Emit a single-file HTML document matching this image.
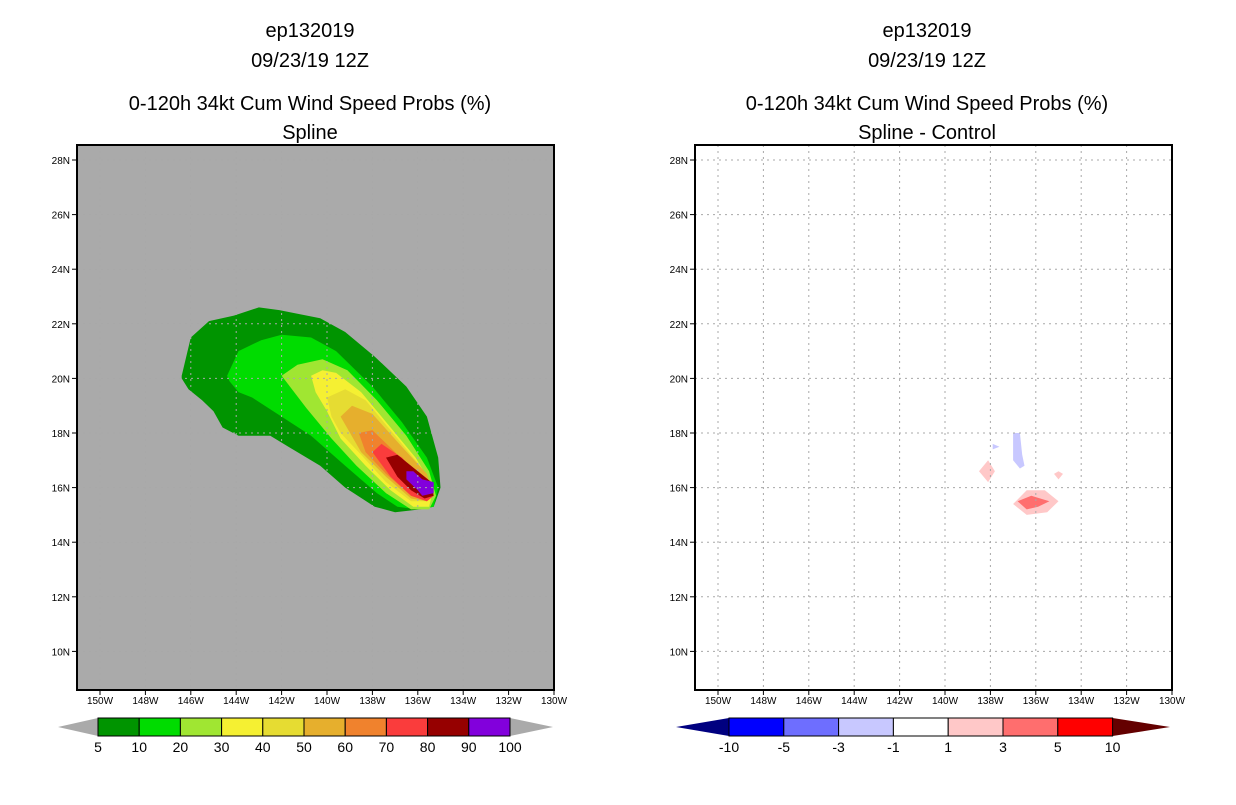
<!DOCTYPE html>
<html><head><meta charset="utf-8"><style>
body{margin:0;background:#fff;width:1236px;height:800px;overflow:hidden}
svg text{font-family:"Liberation Sans",sans-serif;fill:#000}
</style></head><body>
<svg id="s" width="1236" height="800" xmlns="http://www.w3.org/2000/svg">
<g font-size="20" text-anchor="middle">
<text x="310" y="37">ep132019</text><text x="310" y="67">09/23/19 12Z</text>
<text x="310" y="110">0-120h 34kt Cum Wind Speed Probs (%)</text><text x="310" y="139">Spline</text></g>
<g font-size="20" text-anchor="middle">
<text x="927" y="37">ep132019</text><text x="927" y="67">09/23/19 12Z</text>
<text x="927" y="110">0-120h 34kt Cum Wind Speed Probs (%)</text><text x="927" y="139">Spline - Control</text></g>
</svg>
<script>
const lonTicks=[-150,-148,-146,-144,-142,-140,-138,-136,-134,-132,-130];
const latTicks=[28,26,24,22,20,18,16,14,12,10];
const probLevels=[5,10,20,30,40,50,60,70,80,90];
const probColors=['#009400','#00dc00','#a0e632','#f5f032','#e6dc32','#e6af2d','#f0822d','#fa3c3c','#960000','#8200dc'];
const probLabels=['5','10','20','30','40','50','60','70','80','90','100'];
const probPolys=[
[[-146.4,20.1],[-146.0,21.5],[-145.2,22.1],[-144.1,22.3],[-143.0,22.6],[-142.1,22.5],[-140.3,22.2],[-139.2,21.7],[-137.9,20.8],[-136.5,19.7],[-135.6,18.6],[-135.1,17.1],[-135.0,16.0],[-135.3,15.3],[-135.9,15.2],[-137.0,15.1],[-137.9,15.3],[-139.2,16.0],[-140.3,16.8],[-141.7,17.5],[-142.5,17.9],[-143.9,17.9],[-144.6,18.2],[-145.0,18.8],[-145.5,19.2],[-146.1,19.6],[-146.4,20.0]],
[[-144.4,20.1],[-143.9,21.0],[-142.9,21.4],[-142.0,21.6],[-140.7,21.5],[-139.6,21.0],[-138.0,19.7],[-136.7,18.4],[-135.6,17.1],[-135.1,16.0],[-135.3,15.3],[-136.0,15.2],[-136.9,15.3],[-137.8,15.8],[-139.2,16.8],[-140.7,17.9],[-142.0,18.6],[-143.3,19.3],[-143.9,19.5],[-144.3,19.9]],
[[-142.0,20.1],[-141.3,20.5],[-140.2,20.7],[-139.1,20.3],[-137.8,19.2],[-136.5,17.9],[-135.5,16.6],[-135.2,15.7],[-135.5,15.2],[-136.3,15.2],[-137.4,15.8],[-138.7,16.8],[-139.8,17.8],[-140.9,18.9]],
[[-140.7,20.1],[-140.2,20.3],[-139.6,20.2],[-138.5,19.5],[-137.2,18.2],[-136.1,17.1],[-135.3,16.0],[-135.5,15.3],[-136.2,15.3],[-137.2,15.9],[-138.3,16.8],[-139.4,17.8],[-140.0,18.8],[-140.5,19.5]],
[[-140.0,19.3],[-139.2,19.6],[-138.3,19.2],[-137.0,17.9],[-135.9,16.8],[-135.3,15.9],[-135.6,15.5],[-136.3,15.5],[-137.4,16.2],[-138.5,17.2],[-139.4,18.0],[-139.8,18.6]],
[[-139.4,18.6],[-138.9,19.0],[-138.0,18.7],[-136.7,17.5],[-135.6,16.5],[-135.3,15.7],[-135.6,15.5],[-136.3,15.6],[-137.4,16.4],[-138.5,17.3]],
[[-138.6,18.0],[-138.0,18.1],[-137.0,17.3],[-135.9,16.2],[-135.3,15.7],[-135.6,15.5],[-136.3,15.7],[-137.4,16.5],[-138.3,17.3]],
[[-138.0,17.3],[-137.6,17.6],[-136.7,17.1],[-135.6,16.1],[-135.3,15.7],[-135.6,15.5],[-136.3,15.7],[-137.2,16.4]],
[[-137.4,17.1],[-136.9,17.2],[-136.0,16.6],[-135.4,16.2],[-135.3,15.7],[-135.7,15.6],[-136.3,15.9],[-136.9,16.4]],
[[-136.5,16.6],[-136.2,16.6],[-135.8,16.3],[-135.3,16.2],[-135.3,15.8],[-135.8,15.7],[-136.0,15.9],[-136.5,16.3]]
];
const diffLabels=['-10','-5','-3','-1','1','3','5','10'];
const diffColors=['#000080','#0000ff','#6e6eff','#c8c8ff','#ffffff','#ffc8c8','#ff6e6e','#ff0000','#640000'];
const diffPolys=[
{c:'#c8c8ff',p:[[-137.0,18.0],[-136.7,18.0],[-136.6,17.2],[-136.5,16.8],[-136.7,16.7],[-137.0,17.0]]},
{c:'#c8c8ff',p:[[-137.9,17.6],[-137.6,17.5],[-137.9,17.4]]},
{c:'#ffc8c8',p:[[-138.1,17.0],[-137.8,16.6],[-138.1,16.2],[-138.5,16.6]]},
{c:'#ffc8c8',p:[[-135.0,16.6],[-134.8,16.5],[-135.0,16.3],[-135.2,16.5]]},
{c:'#ffc8c8',p:[[-136.4,15.9],[-135.6,15.9],[-135.0,15.5],[-135.5,15.1],[-136.4,15.0],[-137.0,15.4]]},
{c:'#ff6e6e',p:[[-136.2,15.7],[-135.8,15.6],[-135.4,15.5],[-135.9,15.3],[-136.4,15.2],[-136.8,15.5]]}
];
const NS='http://www.w3.org/2000/svg',S=document.getElementById('s');
function mk(t,a,par){const e=document.createElementNS(NS,t);for(const k in a)e.setAttribute(k,a[k]);(par||S).appendChild(e);return e;}
function panel(ox,bg,name){
 const X=lon=>ox+23+(lon+150)*22.7, Y=lat=>160+(28-lat)*27.3;
 const g=mk('g',{});
 
 
 mk('rect',{x:ox,y:145,width:477,height:545,fill:bg},g);
 return {g,X,Y};
}
function frame(P,ox){
 const {g,X,Y}=P;
 lonTicks.forEach(l=>{if(l<-130){mk('line',{x1:X(l),x2:X(l),y1:145,y2:690,stroke:'#a8a8a8','stroke-dasharray':'2,4'},g);}});
 latTicks.forEach(l=>mk('line',{x1:ox,x2:ox+477,y1:Y(l),y2:Y(l),stroke:'#a8a8a8','stroke-dasharray':'2,4'},g));
 mk('rect',{x:ox,y:145,width:477,height:545,fill:'none',stroke:'#000','stroke-width':2},g);
 lonTicks.forEach(l=>{mk('line',{x1:X(l),x2:X(l),y1:690,y2:695,stroke:'#000'},g);
  const t=mk('text',{x:X(l),y:704,'font-size':10,'text-anchor':'middle'},g);t.textContent=(-l)+'W';
  
  });
 latTicks.forEach(l=>{mk('line',{x1:ox-5,x2:ox,y1:Y(l),y2:Y(l),stroke:'#000'},g);
  const t=mk('text',{x:ox-7,y:Y(l)+4,'font-size':10,'text-anchor':'end'},g);t.textContent=l+'N';
  
  });
}
const pts=(p,X,Y)=>p.map(q=>X(q[0]).toFixed(1)+','+Y(q[1]).toFixed(1)).join(' ');
const L=panel(77,'#aaaaaa','left-map');
probPolys.forEach((p,i)=>{const e=mk('polygon',{points:pts(p,L.X,L.Y),fill:probColors[i]},L.g);
 
 });
frame(L,77);
const R=panel(695,'#ffffff','right-map');
diffPolys.forEach(d=>{const e=mk('polygon',{points:pts(d.p,R.X,R.Y),fill:d.c},R.g);
 
 });
frame(R,695);
const cb=mk('g',{});


const x0=98,w=41.2;
mk('polygon',{points:`58,727 ${x0},718 ${x0},736`,fill:'#aaaaaa'},cb);
mk('polygon',{points:`${x0+10*w},718 553,727 ${x0+10*w},736`,fill:'#aaaaaa'},cb);
probColors.forEach((c,i)=>mk('rect',{x:x0+i*w,y:718,width:w,height:18,fill:c,stroke:'#000'},cb));
probLabels.forEach((s,i)=>{const t=mk('text',{x:x0+i*w,y:752,'font-size':14,'text-anchor':'middle'},cb);t.textContent=s;});
const cb2=mk('g',{});


const x1=729,w2=54.8;
mk('polygon',{points:`676,727 ${x1},718 ${x1},736`,fill:diffColors[0]},cb2);
mk('polygon',{points:`${x1+7*w2},718 1170,727 ${x1+7*w2},736`,fill:diffColors[8]},cb2);
for(let i=0;i<7;i++)mk('rect',{x:x1+i*w2,y:718,width:w2,height:18,fill:diffColors[i+1],stroke:'#000'},cb2);
diffLabels.forEach((s,i)=>{const t=mk('text',{x:x1+i*w2,y:752,'font-size':14,'text-anchor':'middle'},cb2);t.textContent=s;});
</script>
</body></html>
